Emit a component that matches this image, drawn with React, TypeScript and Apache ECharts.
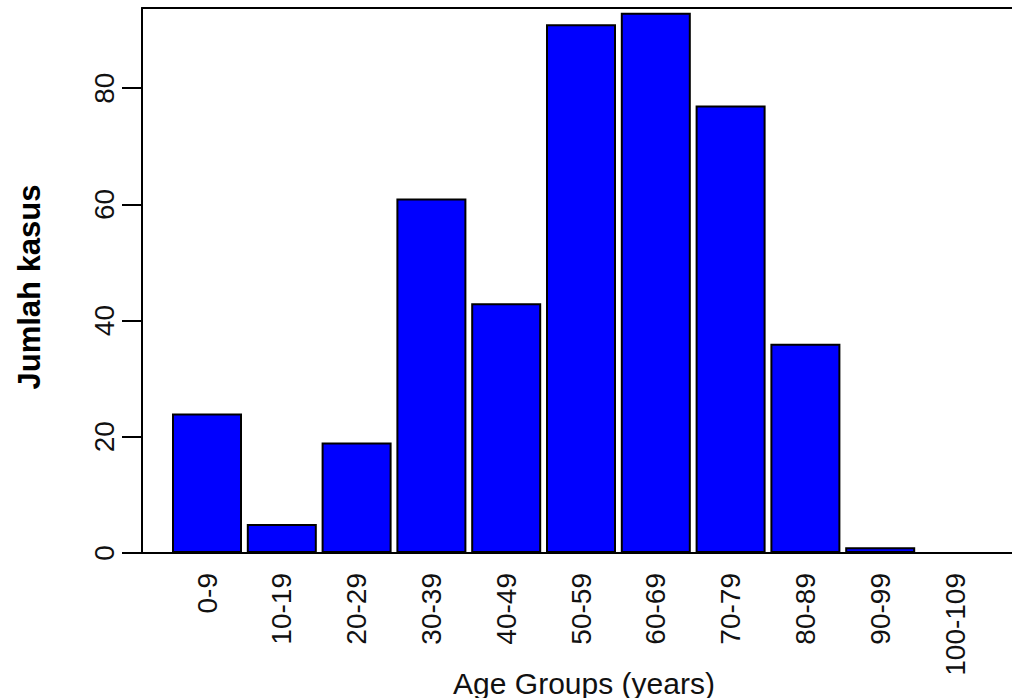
import React, { useEffect, useRef } from "react";
import * as echarts from "echarts";

const categories = ["0-9", "10-19", "20-29", "30-39", "40-49", "50-59", "60-69", "70-79", "80-89", "90-99", "100-109"];
const counts = [24, 5, 19, 61, 43, 91, 93, 77, 36, 1, 0];
const yTicks = [0, 20, 40, 60, 80];
const xTitle = "Age Groups (years)";
const yTitle = "Jumlah kasus";

export default function App() {
  const ref = useRef<HTMLDivElement>(null);
  useEffect(() => {
    document.body.style.margin = "0";
    const chart = echarts.init(ref.current!, undefined, { renderer: "svg" });
    const font = "'Liberation Sans', Arial, sans-serif";
    const idx = categories.map((_, i) => i);
    chart.setOption({
      animation: false,
      backgroundColor: "#ffffff",
      grid: { left: 142, right: 0, top: 8, bottom: 145 },
      xAxis: [
        {
          type: "value",
          min: -0.869,
          max: 10.762,
          axisLine: { show: true, onZero: false, lineStyle: { color: "#000", width: 2 } },
          axisTick: { show: false },
          splitLine: { show: false },
          axisLabel: {
            customValues: idx,
            formatter: (v: number) => categories[Math.round(v)] ?? "",
            rotate: 90,
            fontSize: 28,
            fontFamily: font,
            color: "#111",
            margin: 20,
          },
        },
        {
          type: "value",
          position: "top",
          min: -0.869,
          max: 10.762,
          axisLine: { show: true, onZero: false, lineStyle: { color: "#000", width: 2 } },
          axisTick: { show: false },
          axisLabel: { show: false },
          splitLine: { show: false },
        },
      ],
      yAxis: {
        type: "value",
        min: 0,
        max: 93.8,
        axisLine: { show: true, onZero: false, lineStyle: { color: "#000", width: 2 } },
        axisTick: { show: true, customValues: yTicks, length: 20, lineStyle: { color: "#000", width: 2 } },
        splitLine: { show: false },
        axisLabel: {
          customValues: yTicks,
          rotate: 90,
          fontSize: 28,
          fontFamily: font,
          color: "#111",
          margin: 24,
        },
      },
      series: [
        {
          type: "bar",
          xAxisIndex: 0,
          barWidth: 70,
          data: counts.map((v, i) => [i, v]),
          itemStyle: { color: "#0000ff", borderColor: "#000", borderWidth: 2 },
        },
      ],
      graphic: [
        {
          type: "text",
          x: 584,
          y: 683,
          style: {
            text: xTitle,
            fontSize: 30,
            fontFamily: font,
            fill: "#111",
            align: "center",
            verticalAlign: "middle",
            textAlign: "center",
            textVerticalAlign: "middle",
          },
        },
        {
          type: "text",
          x: 29,
          y: 287,
          rotation: Math.PI / 2,
          style: {
            text: yTitle,
            fontSize: 31,
            fontWeight: "bold",
            fontFamily: font,
            fill: "#000",
            align: "center",
            verticalAlign: "middle",
            textAlign: "center",
            textVerticalAlign: "middle",
          },
        },
      ],
    });
    return () => chart.dispose();
  }, []);
  return <div ref={ref} style={{ width: 1012, height: 698 }} />;
}
